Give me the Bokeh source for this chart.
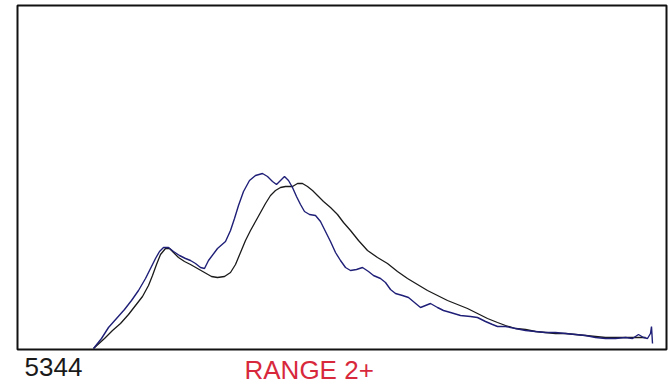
from bokeh.plotting import figure
from bokeh.models import Range1d, Label
from bokeh.embed import file_html
from bokeh.resources import INLINE

# Spectrum data (channel, counts)
navy_x = [93, 101, 108, 116, 124, 131, 138, 145, 150, 155, 159, 163, 168, 173, 179, 185, 190, 195, 200, 204,
          208, 217, 225, 230, 234, 238, 243, 249, 255, 262, 267, 272, 276, 280, 284, 288, 292, 296, 300, 304,
          309, 315, 320, 325, 330, 335, 340, 345, 350, 356, 362, 368, 373, 380, 385, 390, 395, 402, 408, 414,
          420, 425, 430, 437, 443, 450, 460, 470, 477, 485, 492, 497, 505, 515, 525, 535, 545, 555, 565, 575,
          585, 595, 605, 615, 625, 632, 638, 643, 647, 650, 651, 652]
navy_y = [1, 11, 22, 31, 40, 49, 59, 71, 81, 91, 98, 102, 102, 98, 94, 91, 89, 86, 82, 81,
          89, 101, 108, 119, 131, 144, 158, 169, 174, 176, 173, 168, 165, 169, 173, 169, 162, 153, 145, 138,
          135, 134, 128, 118, 108, 97, 89, 82, 79, 80, 82, 78, 74, 71, 67, 60, 56, 54, 52, 47,
          42, 44, 46, 42, 39, 37, 34, 33, 32, 28, 25, 23, 23, 21, 19, 18, 17, 17, 16, 15,
          14, 12, 11, 11, 12, 11, 15, 12, 11, 16, 23, 6]

black_x = [93, 104, 112, 120, 128, 135, 142, 148, 152, 156, 160, 165, 169, 173, 178, 184, 190, 197, 204, 211,
           217, 224, 230, 235, 240, 245, 250, 255, 260, 265, 270, 275, 280, 285, 292, 297, 302, 307, 312, 318,
           323, 330, 337, 343, 350, 358, 367, 377, 387, 397, 407, 417, 427, 437, 447, 457, 467, 477, 487, 497,
           505, 515, 525, 535, 545, 555, 565, 575, 585, 595, 605, 615, 625, 635, 645]
black_y = [1, 11, 19, 26, 35, 44, 53, 64, 74, 85, 95, 101, 101, 97, 92, 88, 85, 81, 77, 73,
           72, 73, 77, 85, 97, 109, 119, 128, 137, 146, 154, 159, 162, 163, 163, 166, 166, 163, 159, 153,
           148, 142, 135, 127, 119, 109, 99, 92, 86, 78, 71, 65, 59, 54, 49, 45, 41, 36, 31, 27,
           24, 21, 20, 18, 17, 16, 16, 15, 14, 13, 12, 12, 12, 12, 12]

# Plot-box limits (channel range and counts ceiling)
box_left, box_right = 17, 666
box_bottom, box_top = 0, 344

id_label = "5344"
range_label = "RANGE 2+"

p = figure(width=668, height=385, output_backend="svg", toolbar_location=None,
           x_range=Range1d(0, 668), y_range=Range1d(-36, 349),
           min_border=0)
p.axis.visible = False
p.grid.visible = False
p.outline_line_color = None
p.background_fill_color = "white"
p.border_fill_color = "white"

p.quad(left=[box_left], right=[box_right], bottom=[box_bottom], top=[box_top],
       fill_color=None, line_color="#111111", line_width=2)

p.line(black_x, black_y, line_color="#1a1a1a", line_width=1.3)
p.line(navy_x, navy_y, line_color="#1f1f78", line_width=1.4)

p.add_layout(Label(x=24, y=-8, text=id_label, text_font="Liberation Sans",
                   text_font_size="26px", text_color="#1a1a1a", text_baseline="top"))
p.add_layout(Label(x=244, y=-5, text=range_label, text_font="Liberation Sans",
                   text_font_size="26px", text_color="#d8283c", text_baseline="top"))

open("out.html", "w").write(file_html(p, INLINE))
